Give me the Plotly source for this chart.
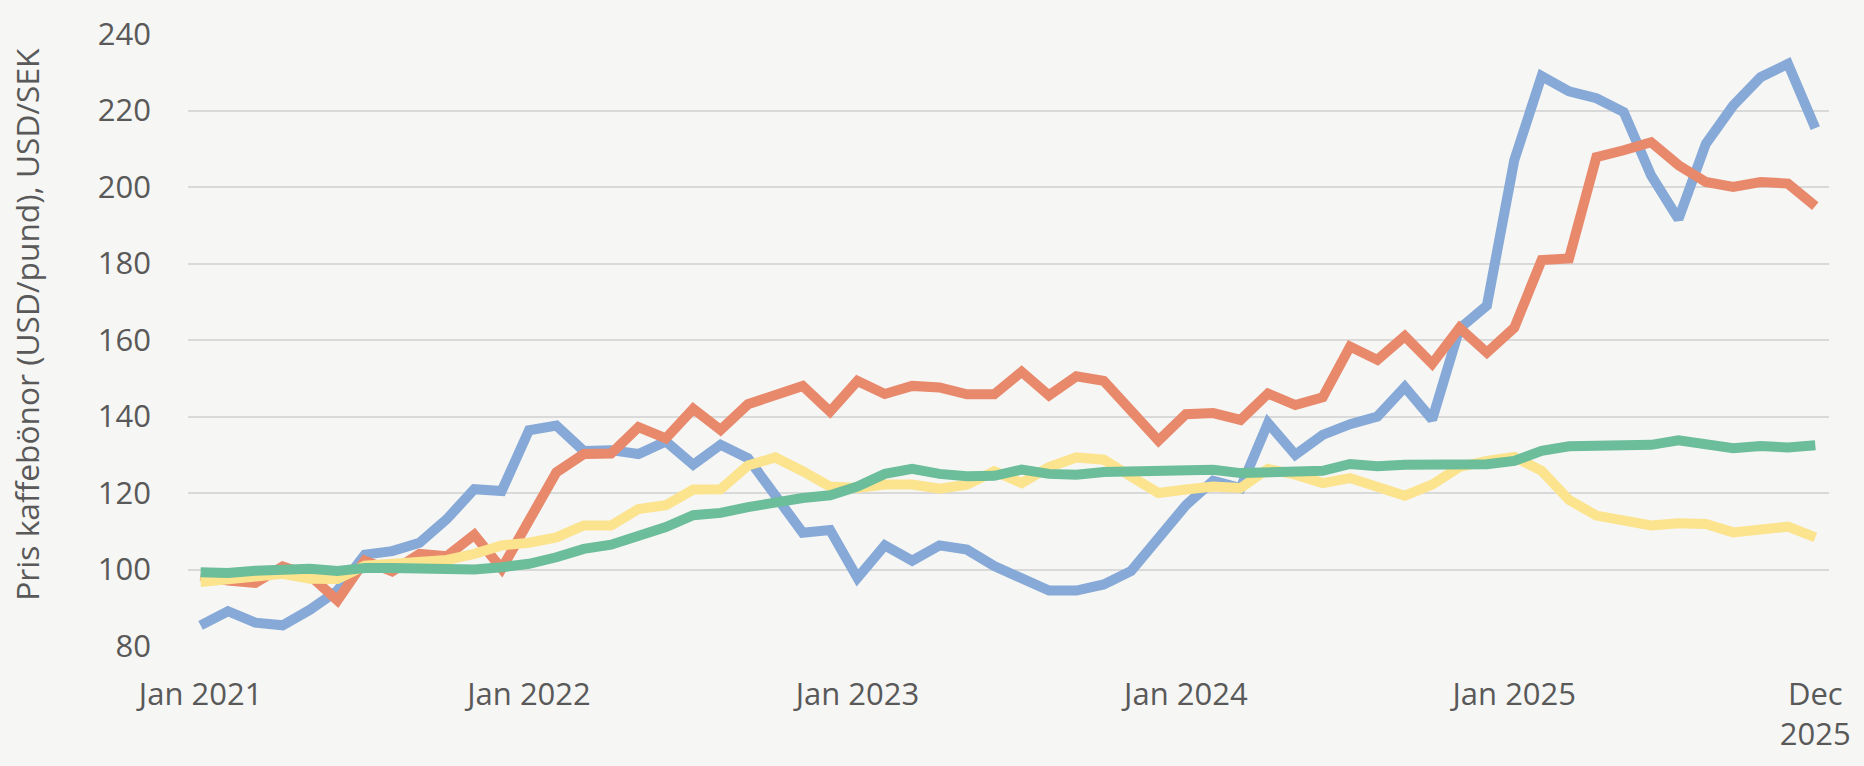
import plotly.graph_objects as go

months = [f"{m} {y}" for y in range(2021, 2026) for m in
          ["Jan", "Feb", "Mar", "Apr", "May", "Jun", "Jul", "Aug", "Sep", "Oct", "Nov", "Dec"]]

blue = [85.4, 89.1, 86.1, 85.4, 89.5, 94.5, 103.9, 104.8, 107.0, 113.2, 121.0, 120.5,
        136.4, 137.6, 131.0, 131.2, 130.2, 133.5, 127.4, 132.6, 129.1, 119.4, 109.6, 110.3,
        97.8, 106.3, 102.3, 106.3, 105.2, 100.9, 97.4, 94.5, 94.5, 96.1, 99.6, 108.4,
        116.8, 123.2, 121.3, 138.3, 130.0, 135.2, 138.0, 140.0, 147.7, 139.2, 163.0, 169.0,
        207.0, 229.0, 225.0, 223.2, 219.6, 203.0, 191.6, 211.3, 221.3, 228.7, 232.2, 215.4]

orange = [98.4, 97.1, 96.5, 100.8, 98.4, 91.9, 102.3, 99.5, 104.1, 103.5, 109.1, 100.2,
          112.8, 125.4, 130.2, 130.3, 137.2, 134.3, 142.0, 136.5, 143.2, 145.7, 148.0, 141.3,
          149.3, 145.9, 148.0, 147.6, 145.8, 145.8, 151.7, 145.5, 150.5, 149.3, 141.7, 133.7,
          140.6, 140.9, 139.1, 146.0, 143.0, 145.0, 158.3, 154.8, 161.0, 153.8, 163.2, 156.7,
          163.2, 180.9, 181.3, 207.8, 209.6, 211.7, 205.7, 201.3, 200.0, 201.3, 200.9, 195.0]

yellow = [96.7, 97.4, 98.0, 98.9, 97.6, 97.5, 101.0, 101.5, 102.3, 102.5, 104.1, 106.3,
          107.0, 108.4, 111.5, 111.5, 115.8, 116.8, 120.9, 121.0, 127.2, 129.3, 125.7, 121.7,
          121.3, 122.2, 122.2, 121.1, 122.2, 125.7, 122.6, 126.8, 129.3, 128.7, 124.3, 120.0,
          120.9, 121.7, 121.3, 126.3, 124.8, 122.6, 123.9, 121.3, 119.3, 122.2, 126.8, 128.4,
          129.4, 125.8, 118.2, 114.1, 112.8, 111.5, 112.1, 111.9, 109.7, 110.2, 111.2, 108.4]

green = [99.3, 99.1, 99.7, 100.0, 100.2, 99.6, 100.4, 100.4, 100.2, 100.2, 100.0, 100.6,
         101.5, 103.2, 105.4, 106.5, 108.9, 111.1, 114.2, 114.8, 116.3, 117.8, 118.7, 119.4,
         121.7, 125.0, 126.3, 125.0, 124.4, 124.5, 126.1, 125.0, 124.8, 125.5, 125.8, 125.7,
         125.9, 126.1, 125.2, 125.5, 125.8, 125.8, 127.6, 127.0, 127.4, 127.5, 128.0, 127.5,
         128.4, 131.0, 132.2, 132.3, 132.5, 132.6, 133.8, 133.0, 131.7, 132.3, 131.9, 132.5]

tick_idx = [0, 12, 24, 36, 48, 59]
tick_text = ["Jan 2021", "Jan 2022", "Jan 2023", "Jan 2024", "Jan 2025", "Dec<br>2025"]
y_ticks = [80, 100, 120, 140, 160, 180, 200, 220, 240]
y_title = "Pris kaffebönor (USD/pund), USD/SEK"

series = [
    ("Serie 1", blue, "#86A9D7"),
    ("Serie 2", orange, "#E8896C"),
    ("Serie 3", yellow, "#FCE38E"),
    ("Serie 4", green, "#6CBD99"),
]

x = list(range(len(months)))
fig = go.Figure()
for name, vals, col in series:
    fig.add_trace(go.Scatter(x=x, y=vals, name=name, mode="lines",
                             line=dict(color=col, width=10, shape="linear"),
                             customdata=months,
                             hovertemplate="%{customdata}: %{y}<extra>" + name + "</extra>"))

font_family = "Open Sans, Noto Sans, sans-serif"
txt = "#595959"
bg = "#F6F6F4"
fig.update_layout(
    width=1864, height=766,
    paper_bgcolor=bg, plot_bgcolor=bg,
    margin=dict(l=188, r=35, t=32, b=120),
    showlegend=False,
    font=dict(family=font_family, size=31, color=txt),
    xaxis=dict(range=[-0.46, 59.5], tickmode="array", tickvals=tick_idx, ticktext=tick_text,
               showgrid=False, zeroline=False, showline=False, ticks="",
               ticklabelstandoff=27, tickfont=dict(size=31, color=txt)),
    yaxis=dict(range=[80, 240], tickmode="array", tickvals=y_ticks,
               showgrid=True, gridcolor="#D9D9D9", gridwidth=2, zeroline=False,
               showline=False, ticks="", ticklabelstandoff=36,
               tickfont=dict(size=31, color=txt)),
    annotations=[dict(text=y_title, textangle=-90, xref="paper", yref="paper",
                      x=(27 - 188) / 1641, y=0.525, xanchor="center", yanchor="middle",
                      showarrow=False, font=dict(size=31.7, color=txt, family=font_family))],
)

fig.write_html("out.html", config={"displayModeBar": False},
               post_script="document.body.style.margin='0';")
